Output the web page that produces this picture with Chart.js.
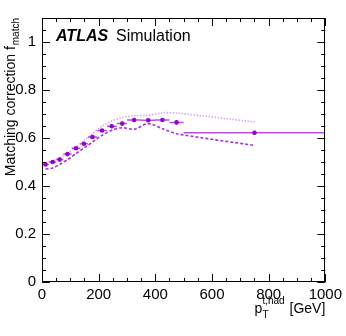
<!DOCTYPE html>
<html>
<head>
<meta charset="utf-8">
<script src="https://cdn.jsdelivr.net/npm/chart.js@4.4.1/dist/chart.umd.min.js"></script>
<style>
html,body{margin:0;padding:0;background:#fff;}
#wrap{position:relative;width:346px;height:336px;}
</style>
</head>
<body>
<div id="wrap"><canvas id="c" width="346" height="336"></canvas></div>
<script>
// ---- data ----
const binCenters = [12.5, 37.5, 62.5, 90, 120, 148, 178, 212, 246, 283, 325, 375, 425, 475, 750];
const binLow     = [0, 25, 50, 75, 105, 135, 162, 195, 229, 264, 300, 350, 400, 450, 500];
const binHigh    = [25, 50, 75, 105, 135, 162, 195, 229, 264, 300, 350, 400, 450, 500, 1000];
const fMatch     = [0.490, 0.500, 0.510, 0.533, 0.557, 0.576, 0.604, 0.631, 0.649, 0.660, 0.675, 0.674, 0.675, 0.665, 0.622];
const fMatchErr  = [0.005, 0.005, 0.005, 0.005, 0.005, 0.006, 0.006, 0.006, 0.006, 0.007, 0.007, 0.007, 0.008, 0.009, 0.008];
const upperVar   = [0.496, 0.504, 0.518, 0.537, 0.562, 0.590, 0.618, 0.649, 0.671, 0.685, 0.693, 0.694, 0.705, 0.704, 0.667];
const lowerVar   = [0.471, 0.475, 0.490, 0.510, 0.535, 0.558, 0.583, 0.611, 0.632, 0.643, 0.636, 0.660, 0.639, 0.618, 0.569];
const xTicks = [0, 200, 400, 600, 800, 1000];
const xMinorStep = 50;
const yTicks = [0, 0.2, 0.4, 0.6, 0.8, 1];
const yMinorStep = 0.05;
const xTitle = {main: 'p', sub: 'T', sup: 't,had', tail: ' [GeV]'};
const yTitle = {main: 'Matching correction f', sub: 'match'};
const labelBold = 'ATLAS';
const labelText = 'Simulation';

const FONT = '"Liberation Sans", Arial, Helvetica, sans-serif';
const markerColor = '#9900cc';
const barColor = '#b450e0';

const frameTicks = {
  id: 'frameTicks',
  afterDraw(chart) {
    const ctx = chart.ctx, a = chart.chartArea;
    const xs = chart.scales.x, ys = chart.scales.y;
    ctx.save();
    ctx.strokeStyle = '#000';
    ctx.lineWidth = 1;
    ctx.strokeRect(Math.round(a.left) + 0.5, Math.round(a.top) + 0.5,
                   Math.round(a.right - a.left) - 1, Math.round(a.bottom - a.top) - 1);
    ctx.beginPath();
    for (let v = xs.min; v <= xs.max + 1e-9; v += xMinorStep) {
      const major = xTicks.some(t => Math.abs(t - v) < 1e-6);
      const L = major ? 8 : 4;
      const px = Math.round(xs.getPixelForValue(v)) + 0.5;
      ctx.moveTo(px, a.bottom); ctx.lineTo(px, a.bottom - L);
      ctx.moveTo(px, a.top); ctx.lineTo(px, a.top + L);
    }
    for (let v = 0; v <= ys.max + 1e-9; v += yMinorStep) {
      const major = yTicks.some(t => Math.abs(t - v) < 1e-6);
      const L = major ? 8 : 4;
      const py = Math.round(ys.getPixelForValue(v)) + 0.5;
      ctx.moveTo(a.left, py); ctx.lineTo(a.left + L, py);
      ctx.moveTo(a.right, py); ctx.lineTo(a.right - L, py);
    }
    ctx.stroke();

    // axis titles
    ctx.fillStyle = '#000';
    // x title right-aligned at the right edge of the frame
    ctx.textBaseline = 'alphabetic';
    const base = 313;
    ctx.font = '14px ' + FONT;
    const wTail = ctx.measureText(xTitle.tail).width;
    ctx.font = '10px ' + FONT;
    const wSup = ctx.measureText(xTitle.sup).width;
    ctx.font = '14px ' + FONT;
    const wP = ctx.measureText(xTitle.main).width;
    let xEnd = a.right;
    ctx.textAlign = 'left';
    const xTail = xEnd - wTail;
    ctx.fillText(xTitle.tail, xTail, base);
    const xSup = xTail - wSup - 1;
    const xP = xSup - wP;
    ctx.fillText(xTitle.main, xP, base);
    ctx.font = '10px ' + FONT;
    ctx.fillText(xTitle.sup, xSup, base - 9);
    ctx.fillText(xTitle.sub, xSup, base + 5);

    // y title rotated, right-aligned to the top of the frame
    ctx.save();
    ctx.translate(15, a.top);
    ctx.rotate(-Math.PI / 2);
    ctx.font = '10px ' + FONT;
    const wSub = ctx.measureText(yTitle.sub).width;
    ctx.textAlign = 'right';
    ctx.fillText(yTitle.sub, 0, 4);
    ctx.font = '14px ' + FONT;
    ctx.fillText(yTitle.main, -wSub - 1, 0);
    ctx.restore();

    // ATLAS label
    ctx.textAlign = 'left';
    ctx.font = 'italic bold 16px ' + FONT;
    ctx.fillText(labelBold, 56, 41);
    ctx.font = '16px ' + FONT;
    ctx.fillText(labelText, 116, 41);
    ctx.restore();
  }
};

const errorBars = {
  id: 'errorBars',
  afterDatasetsDraw(chart) {
    const ctx = chart.ctx;
    const xs = chart.scales.x, ys = chart.scales.y;
    ctx.save();
    ctx.strokeStyle = barColor;
    ctx.lineWidth = 1.5;
    ctx.beginPath();
    for (let i = 0; i < binCenters.length; i++) {
      const y = ys.getPixelForValue(fMatch[i]);
      ctx.moveTo(xs.getPixelForValue(binLow[i]), y);
      ctx.lineTo(xs.getPixelForValue(binHigh[i]), y);
      const x = xs.getPixelForValue(binCenters[i]);
      ctx.moveTo(x, ys.getPixelForValue(fMatch[i] - fMatchErr[i]));
      ctx.lineTo(x, ys.getPixelForValue(fMatch[i] + fMatchErr[i]));
    }
    ctx.stroke();
    ctx.fillStyle = markerColor;
    for (let i = 0; i < binCenters.length; i++) {
      ctx.beginPath();
      ctx.arc(xs.getPixelForValue(binCenters[i]), ys.getPixelForValue(fMatch[i]), 2.3, 0, Math.PI * 2);
      ctx.fill();
    }
    ctx.restore();
  }
};

new Chart(document.getElementById('c'), {
  type: 'scatter',
  data: {
    datasets: [
      {
        label: 'up',
        type: 'line',
        data: binCenters.map((x, i) => ({x, y: upperVar[i]})),
        borderColor: '#d9a6ef',
        borderWidth: 1.6,
        borderDash: [1.5, 1.5],
        pointRadius: 0,
        tension: 0.3,
        fill: false
      },
      {
        label: 'down',
        type: 'line',
        data: binCenters.map((x, i) => ({x, y: lowerVar[i]})),
        borderColor: '#a433d6',
        borderWidth: 1.6,
        borderDash: [3, 2],
        pointRadius: 0,
        tension: 0.3,
        fill: false
      },
      {
        label: 'fmatch',
        data: binCenters.map((x, i) => ({x, y: fMatch[i]})),
        pointRadius: 0,
        showLine: false,
        backgroundColor: markerColor
      }
    ]
  },
  options: {
    responsive: false,
    animation: false,
    devicePixelRatio: 1,
    layout: {padding: {left: 0, right: 17, top: 18, bottom: 0}},
    plugins: {legend: {display: false}, tooltip: {enabled: false}},
    scales: {
      x: {
        type: 'linear', min: 0, max: 1000,
        grid: {display: false, drawTicks: false},
        border: {display: false},
        afterFit(s) { s.height = 54; },
        afterBuildTicks(s) { s.ticks = xTicks.map(v => ({value: v})); },
        ticks: {
          padding: 4, color: '#000', maxRotation: 0, autoSkip: false,
          font: {family: FONT, size: 15},
          callback: v => String(v)
        }
      },
      y: {
        type: 'linear', min: 0, max: 1.1,
        grid: {display: false, drawTicks: false},
        border: {display: false},
        afterFit(s) { s.width = 42; },
        afterBuildTicks(s) { s.ticks = yTicks.map(v => ({value: v})); },
        ticks: {
          padding: 6, color: '#000', autoSkip: false,
          font: {family: FONT, size: 15},
          callback: v => String(Math.round(v * 10) / 10)
        }
      }
    }
  },
  plugins: [frameTicks, errorBars]
});
</script>
</body>
</html>
